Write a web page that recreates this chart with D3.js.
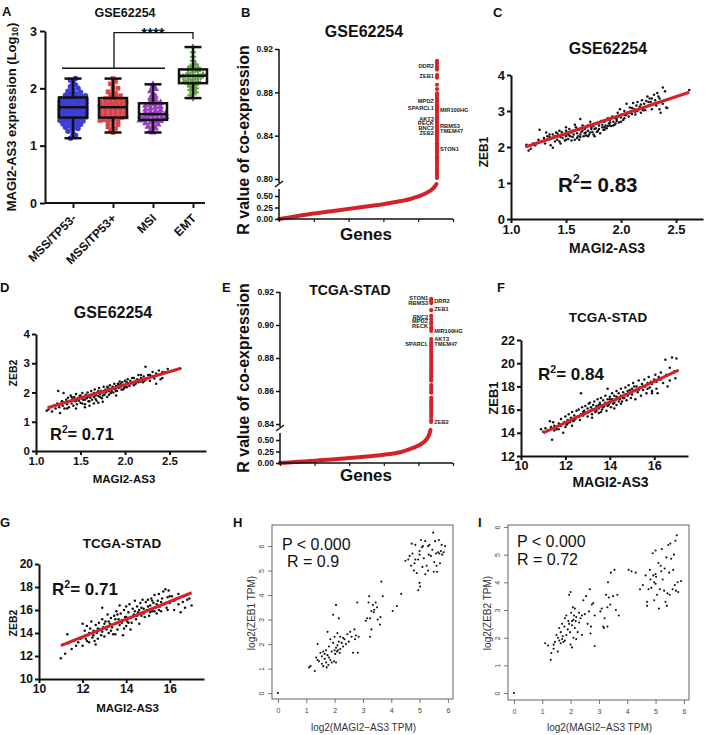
<!DOCTYPE html>
<html><head><meta charset="utf-8">
<script src="https://cdn.jsdelivr.net/npm/d3@7"></script>
<style>body{margin:0;background:#fff}svg{display:block;font-family:Arial,"Liberation Sans",sans-serif}</style>
</head><body>
<svg id="c" width="707" height="735"></svg>
<script>
// ---------------- DATA ----------------
// Panel A
const catsA = ["MSS/TP53-","MSS/TP53+","MSI","EMT"];
const ticksA = [0,1,2,3];
const boxLoA  = [1.13,1.23,1.23,1.83];
const boxQ1A  = [1.49,1.49,1.45,2.09];
const boxMedA = [1.67,1.67,1.55,2.22];
const boxQ3A  = [1.84,1.83,1.74,2.33];
const boxHiA  = [2.17,2.17,2.07,2.72];
const ptsTP53neg = [1.13,1.18,1.2,1.25,1.28,1.3,1.32,1.34,1.35,1.37,1.38,1.4,1.41,1.42,1.43,1.44,1.45,1.46,1.47,1.48,1.48,1.49,1.5,1.5,1.51,1.52,1.53,1.54,1.55,1.55,1.56,1.57,1.58,1.58,1.59,1.6,1.6,1.61,1.62,1.62,1.63,1.64,1.65,1.65,1.66,1.67,1.67,1.68,1.69,1.7,1.7,1.71,1.72,1.73,1.73,1.74,1.75,1.76,1.77,1.78,1.78,1.79,1.8,1.81,1.82,1.83,1.84,1.85,1.86,1.87,1.88,1.9,1.91,1.93,1.95,1.97,2.0,2.03,2.06,2.1,2.14,2.17];
const ptsTP53pos = [1.23,1.28,1.3,1.33,1.35,1.37,1.39,1.41,1.42,1.44,1.45,1.46,1.47,1.48,1.49,1.5,1.51,1.52,1.53,1.54,1.55,1.56,1.57,1.58,1.59,1.6,1.61,1.62,1.63,1.64,1.65,1.66,1.67,1.68,1.69,1.7,1.71,1.72,1.73,1.74,1.75,1.76,1.77,1.78,1.79,1.8,1.81,1.82,1.83,1.85,1.87,1.89,1.91,1.94,1.97,2.0,2.04,2.08,2.12,2.17];
const ptsMSI = [1.23,1.27,1.3,1.33,1.35,1.37,1.39,1.4,1.42,1.43,1.44,1.45,1.46,1.47,1.48,1.49,1.5,1.51,1.52,1.53,1.54,1.55,1.56,1.57,1.58,1.6,1.62,1.63,1.65,1.67,1.68,1.7,1.72,1.73,1.75,1.77,1.8,1.83,1.86,1.9,1.95,1.99,2.03,2.07];
const ptsEMT = [1.83,1.88,1.93,1.97,2.0,2.03,2.06,2.08,2.1,2.11,2.13,2.15,2.17,2.19,2.2,2.21,2.22,2.23,2.24,2.26,2.28,2.3,2.32,2.33,2.36,2.38,2.42,2.48,2.55,2.63,2.72];
const sigA = [2.35, 2.97, 2.86]; // bracket heights
const sigLabelA = "****";

// Panel B (GSE62254 co-expression)
const curveB = [[0,0],[0.05,0.03],[0.1,0.06],[0.2,0.12],[0.3,0.17],[0.4,0.22],[0.5,0.27],[0.6,0.32],[0.7,0.39],[0.75,0.43],[0.8,0.49],[0.85,0.57],[0.875,0.63],[0.895,0.7],[0.905,0.76]];
const colB = [0.909,0.907,0.9045,0.9025,0.901,0.896,0.8935,0.887,0.883,0.879,0.877,0.875,0.873,0.871,0.869,0.867,0.865,0.863,0.861,0.859,0.857,0.855,0.853,0.851,0.849,0.847,0.845,0.843,0.841,0.839,0.837,0.835,0.833,0.831,0.829,0.827,0.825,0.823,0.821,0.819,0.817,0.815,0.813,0.811,0.809,0.807,0.805,0.803,0.801];
const genesBLeft  = ["DDR2","ZEB1","MPDZ","SPARCL1","AKT3","RECK","BNC2","ZEB2"];
const genesBLeftR = [0.904,0.895,0.872,0.8656,0.8554,0.8517,0.8471,0.8425];
const genesBRight  = ["MIR100HG","RBMS3","TMEM47","STON1"];
const genesBRightR = [0.8637,0.849,0.8443,0.8277];
const ticksBUp = [0.80,0.84,0.88,0.92];
const ticksLow = [0,0.25,0.5];

// Panel E (TCGA-STAD co-expression)
const curveE = [[0,0],[0.1,0.025],[0.2,0.05],[0.25,0.065],[0.35,0.09],[0.5,0.14],[0.6,0.18],[0.7,0.24],[0.75,0.3],[0.8,0.38],[0.83,0.45],[0.85,0.53],[0.862,0.62],[0.87,0.72]];
const colE = [0.9158,0.9145,0.9133,0.909,0.9055,0.9036,0.9018,0.9006,0.8988,0.8976,0.8964,0.8915,0.8897,0.8885,0.887,0.8855,0.884,0.8825,0.881,0.8795,0.878,0.8765,0.875,0.8735,0.872,0.8705,0.869,0.8675,0.8662,0.8636,0.862,0.8605,0.859,0.8558,0.8543,0.8528,0.8513,0.8498,0.8483,0.8468,0.8455,0.8442,0.8424,0.8412];
const genesELeft  = ["STON1","RBMS3","BNC2","MPDZ","RECK","SPARCL"];
const genesELeftR = [0.9164,0.9133,0.9048,0.9024,0.8994,0.8885];
const genesERight  = ["DRR2","ZEB1","MIR100HG","AKT3","TMEM47","ZEB2"];
const genesERightR = [0.9145,0.9097,0.8964,0.8915,0.8885,0.8412];
const ticksEUp = [0.84,0.86,0.88,0.90,0.92];

// Panel C: GSE62254 MAGI2-AS3 vs ZEB1
const ptsC = [[1.14,2.06],[1.16,1.9],[1.18,1.95],[1.2,2.1],[1.22,2.05],[1.25,2.2],[1.26,2.48],[1.28,2.15],[1.3,2.25],[1.31,2.1],[1.33,2.3],[1.34,2.2],[1.35,2.35],[1.36,2.05],[1.37,2.25],[1.38,1.98],[1.4,2.3],[1.41,2.4],[1.42,2.2],[1.43,2.32],[1.44,2.15],[1.45,2.28],[1.45,2.1],[1.46,2.42],[1.47,2.25],[1.48,2.35],[1.49,2.18],[1.5,2.3],[1.5,2.45],[1.51,2.38],[1.52,2.22],[1.52,2.35],[1.53,2.5],[1.54,2.3],[1.55,2.4],[1.55,2.18],[1.56,2.28],[1.57,2.35],[1.58,2.45],[1.58,2.2],[1.59,2.55],[1.6,2.38],[1.6,2.25],[1.61,2.3],[1.62,2.48],[1.62,2.2],[1.63,2.78],[1.63,2.35],[1.64,2.42],[1.65,2.6],[1.66,2.3],[1.67,2.5],[1.68,2.4],[1.68,2.32],[1.69,2.55],[1.7,2.45],[1.7,2.6],[1.71,2.35],[1.72,2.62],[1.72,2.4],[1.73,2.5],[1.74,2.42],[1.75,2.58],[1.75,2.35],[1.76,2.3],[1.77,2.52],[1.78,2.65],[1.79,2.45],[1.8,2.6],[1.8,2.5],[1.81,2.38],[1.82,2.72],[1.83,2.55],[1.84,2.48],[1.85,2.7],[1.85,2.55],[1.86,2.6],[1.87,2.52],[1.88,2.8],[1.89,2.65],[1.9,2.75],[1.9,2.6],[1.91,2.58],[1.92,2.85],[1.93,2.7],[1.94,2.62],[1.95,2.8],[1.95,2.65],[1.96,2.72],[1.97,2.95],[1.98,2.68],[1.99,3.05],[2.0,2.82],[2.01,2.9],[2.02,2.75],[2.03,3.0],[2.04,2.88],[2.05,3.2],[2.06,2.95],[2.07,2.85],[2.08,3.1],[2.09,3.0],[2.1,2.92],[2.11,3.22],[2.12,3.05],[2.13,2.98],[2.14,3.15],[2.15,3.25],[2.16,3.05],[2.17,3.12],[2.18,2.95],[2.19,3.3],[2.2,3.1],[2.21,3.2],[2.22,3.02],[2.23,3.28],[2.24,3.4],[2.25,3.15],[2.26,3.35],[2.27,3.25],[2.28,3.05],[2.3,3.45],[2.31,3.3],[2.32,3.15],[2.33,3.5],[2.34,3.4],[2.35,3.05],[2.36,2.95],[2.38,3.65],[2.4,3.55],[2.41,3.1],[2.42,3.08],[2.62,3.58],
  [1.3,2.18],[1.35,2.28],[1.4,2.15],[1.42,2.38],[1.47,2.33],[1.5,2.2],[1.53,2.32],[1.56,2.45],[1.6,2.5],[1.63,2.28],[1.65,2.45],[1.67,2.38],[1.7,2.3],[1.73,2.55],[1.76,2.5],[1.78,2.42],[1.8,2.68],[1.83,2.62],[1.85,2.48],[1.88,2.58],[1.9,2.68],[1.93,2.6],[1.96,2.78],[1.98,2.85],[2.0,2.7],[2.03,2.8],[2.05,2.9],[2.08,2.95],[2.1,3.08],[2.13,2.9],[2.15,3.0],[2.18,3.18],[2.2,3.02],[2.25,3.25],[2.28,3.35],[2.3,3.2],[2.35,3.35],[2.38,3.2],[1.58,2.62],[1.72,2.7],[1.5,2.55],[1.44,2.45],[1.38,2.35],[1.32,2.4]];
const lineC = [[1.13,2.0],[2.62,3.52]];

// Panel D: GSE62254 MAGI2-AS3 vs ZEB2
const ptsD = [[1.12,1.38],[1.14,1.42],[1.16,1.5],[1.18,1.35],[1.2,1.55],[1.22,1.45],[1.24,1.62],[1.25,2.05],[1.26,1.5],[1.27,1.3],[1.28,1.6],[1.29,1.7],[1.3,1.55],[1.31,1.98],[1.32,1.45],[1.33,1.65],[1.34,1.75],[1.35,1.6],[1.36,1.82],[1.37,1.5],[1.38,1.7],[1.39,1.9],[1.4,1.62],[1.41,1.78],[1.42,1.55],[1.43,1.85],[1.44,1.7],[1.45,1.95],[1.45,1.45],[1.46,1.6],[1.47,1.8],[1.48,1.72],[1.49,1.88],[1.5,1.65],[1.51,1.8],[1.52,1.98],[1.53,1.75],[1.54,1.85],[1.55,1.6],[1.55,1.5],[1.56,1.92],[1.57,1.8],[1.58,2.0],[1.59,1.7],[1.6,1.88],[1.6,1.55],[1.61,1.82],[1.62,2.05],[1.63,1.75],[1.64,1.95],[1.65,1.85],[1.66,2.1],[1.67,1.9],[1.68,1.72],[1.69,2.0],[1.7,1.88],[1.71,2.15],[1.72,1.95],[1.73,2.05],[1.74,1.8],[1.75,2.0],[1.75,1.68],[1.76,2.2],[1.77,1.92],[1.78,2.1],[1.79,2.02],[1.8,1.85],[1.81,2.15],[1.82,2.05],[1.83,2.25],[1.84,1.98],[1.85,2.12],[1.86,2.2],[1.87,2.0],[1.88,2.3],[1.89,2.1],[1.9,2.22],[1.9,1.9],[1.91,2.05],[1.92,2.3],[1.93,2.15],[1.94,2.38],[1.95,2.2],[1.96,2.1],[1.97,2.35],[1.98,2.25],[1.99,2.15],[2.0,2.4],[2.01,2.28],[2.02,2.18],[2.03,2.45],[2.04,2.3],[2.05,2.22],[2.06,2.4],[2.08,2.32],[2.1,2.5],[2.12,2.3],[2.14,2.45],[2.15,2.6],[2.17,2.38],[2.18,2.5],[2.2,2.35],[2.21,2.55],[2.23,2.88],[2.24,2.45],[2.26,2.6],[2.28,2.4],[2.3,2.55],[2.31,2.7],[2.33,2.48],[2.35,2.3],[2.38,2.75],[2.4,2.62],[2.42,2.5],[2.45,2.7],[2.48,2.8],[2.62,2.82],
  [1.3,1.68],[1.35,1.45],[1.4,1.85],[1.45,1.72],[1.5,1.9],[1.52,1.62],[1.55,1.75],[1.58,1.85],[1.6,1.7],[1.62,1.9],[1.65,1.98],[1.67,1.78],[1.7,2.05],[1.72,1.85],[1.75,1.9],[1.78,2.0],[1.8,2.2],[1.82,1.92],[1.85,2.05],[1.88,2.15],[1.9,2.05],[1.93,2.25],[1.95,2.3],[1.98,2.1],[2.0,2.2],[2.02,2.35],[2.05,2.3],[2.08,2.5],[2.1,2.25],[2.12,2.4],[2.15,2.35],[2.18,2.6],[2.22,2.4],[2.25,2.5],[2.28,2.6],[2.32,2.55],[2.35,2.65],[2.4,2.45],[2.42,2.7],[1.7,1.65],[1.65,1.62]];
const lineD = [[1.13,1.48],[2.62,2.82]];

// Panel F: TCGA-STAD MAGI2-AS3 vs ZEB1
const ptsF = [[10.9,14.3],[11.0,14.1],[11.1,14.4],[11.2,14.2],[11.3,15.0],[11.35,14.5],[11.4,13.4],[11.45,14.9],[11.5,14.6],[11.6,14.3],[11.7,14.8],[11.7,14.3],[11.8,15.2],[11.9,14.0],[11.95,14.9],[12.0,15.4],[12.0,14.5],[12.05,14.7],[12.1,15.1],[12.15,15.6],[12.2,14.9],[12.25,15.3],[12.3,15.8],[12.3,14.6],[12.35,15.0],[12.4,15.5],[12.45,15.2],[12.5,15.9],[12.55,15.4],[12.6,16.0],[12.65,15.1],[12.7,17.4],[12.7,15.6],[12.75,16.2],[12.8,15.5],[12.85,15.9],[12.9,16.3],[12.95,15.7],[13.0,16.1],[13.0,15.4],[13.05,16.5],[13.1,15.9],[13.15,16.2],[13.2,15.6],[13.2,15.3],[13.25,16.4],[13.3,16.0],[13.3,16.7],[13.35,15.8],[13.4,16.3],[13.45,16.9],[13.5,16.1],[13.5,15.7],[13.55,16.6],[13.6,16.4],[13.6,17.0],[13.65,16.0],[13.7,16.8],[13.75,16.3],[13.8,17.2],[13.8,16.6],[13.85,15.9],[13.9,17.8],[13.9,16.9],[13.95,16.4],[14.0,17.1],[14.0,16.6],[14.05,16.2],[14.1,17.4],[14.1,16.9],[14.15,16.5],[14.2,17.2],[14.2,16.1],[14.25,16.8],[14.3,17.6],[14.3,16.4],[14.35,17.0],[14.4,17.4],[14.45,16.9],[14.5,17.8],[14.5,17.2],[14.55,16.7],[14.6,17.5],[14.65,17.0],[14.7,17.9],[14.7,17.3],[14.75,16.8],[14.8,17.6],[14.85,18.1],[14.9,17.4],[14.95,17.0],[15.0,17.8],[15.0,17.3],[15.05,18.3],[15.1,17.6],[15.15,16.9],[15.2,18.0],[15.25,17.5],[15.3,18.5],[15.35,17.9],[15.4,17.2],[15.45,18.2],[15.5,17.7],[15.55,18.6],[15.6,18.0],[15.65,17.4],[15.7,18.3],[15.75,18.8],[15.8,17.9],[15.85,18.4],[15.9,17.6],[15.9,17.4],[16.0,18.6],[16.05,19.0],[16.1,17.8],[16.15,17.4],[16.2,18.8],[16.3,19.2],[16.4,18.3],[16.5,20.3],[16.55,19.0],[16.6,18.0],[16.7,19.6],[16.8,20.5],[16.9,19.3],[16.95,18.7],[17.0,20.4],
  [11.5,14.2],[11.8,14.6],[12.1,14.8],[12.4,15.1],[12.6,15.4],[12.8,15.8],[13.0,15.8],[13.2,16.0],[13.4,15.9],[13.5,16.4],[13.7,16.2],[13.9,16.3],[14.0,16.9],[14.2,16.6],[14.4,16.7],[14.5,16.5],[14.6,17.0],[14.8,17.2],[15.0,17.5],[15.1,18.0],[15.3,17.7],[15.5,18.0],[15.7,17.8],[15.9,18.2],[16.1,18.4],[16.3,18.6],[16.5,18.9],[16.7,18.5],[13.1,16.6],[13.6,15.8],[14.3,17.1],[14.9,17.7]];
const lineF = [[11.0,14.0],[17.1,19.4]];

// Panel G: TCGA-STAD MAGI2-AS3 vs ZEB2
const ptsG = [[11.0,11.8],[11.1,13.0],[11.2,12.2],[11.3,13.9],[11.35,13.1],[11.5,12.6],[11.6,13.3],[11.7,12.9],[11.9,13.5],[12.0,14.8],[12.0,12.9],[12.1,14.2],[12.15,13.5],[12.2,14.6],[12.25,13.8],[12.3,13.2],[12.35,14.4],[12.4,15.0],[12.45,13.6],[12.5,14.2],[12.55,13.3],[12.6,14.7],[12.6,13.0],[12.65,14.0],[12.7,13.5],[12.75,14.9],[12.8,14.3],[12.85,13.8],[12.9,15.2],[12.9,16.2],[12.95,14.5],[13.0,13.7],[13.05,15.0],[13.1,14.3],[13.15,15.6],[13.2,14.0],[13.25,14.8],[13.3,15.3],[13.35,14.5],[13.4,13.9],[13.45,15.5],[13.5,14.8],[13.5,13.9],[13.55,15.9],[13.6,14.3],[13.65,15.2],[13.7,16.4],[13.7,14.7],[13.75,15.7],[13.8,15.1],[13.85,13.8],[13.9,16.0],[13.95,15.4],[14.0,14.6],[14.0,16.3],[14.05,15.0],[14.1,15.8],[14.15,16.5],[14.2,15.3],[14.2,14.3],[14.25,14.9],[14.3,16.1],[14.35,15.6],[14.4,16.8],[14.45,15.2],[14.5,16.3],[14.55,15.8],[14.6,14.8],[14.65,16.6],[14.7,15.5],[14.75,16.9],[14.8,16.1],[14.85,15.4],[14.9,16.7],[14.95,16.0],[15.0,16.9],[15.05,15.5],[15.1,16.4],[15.15,17.0],[15.2,15.9],[15.25,16.6],[15.3,17.3],[15.35,16.2],[15.4,15.7],[15.45,16.8],[15.5,17.4],[15.55,16.3],[15.6,15.9],[15.65,17.0],[15.7,17.6],[15.75,16.5],[15.8,17.8],[15.85,16.2],[15.9,17.1],[15.9,16.0],[15.95,17.7],[16.0,16.6],[16.1,17.2],[16.2,16.0],[16.25,16.9],[16.3,17.0],[16.4,16.5],[16.5,15.8],[16.6,16.7],[16.7,16.2],[16.8,16.9],[17.0,16.4],
  [11.8,13.2],[12.0,13.6],[12.3,14.0],[12.5,13.8],[12.7,14.4],[12.9,14.1],[13.0,14.8],[13.2,15.0],[13.3,14.2],[13.5,15.2],[13.6,15.6],[13.8,14.9],[14.0,15.4],[14.1,14.9],[14.3,15.4],[14.4,15.9],[14.5,15.5],[14.7,16.2],[14.8,15.7],[15.0,16.3],[15.1,15.8],[15.2,16.8],[15.4,16.5],[15.5,16.0],[15.6,16.7],[15.8,16.6],[16.0,17.2],[16.2,16.8],[16.4,17.4],[16.6,17.2],[13.9,14.4],[14.6,16.0],[15.3,15.9],[12.2,13.3],[16.9,17.0]];
const lineG = [[11.0,12.9],[17.0,17.5]];

// Panel H: log2 TPM MAGI2-AS3 vs ZEB1
const ptsH = [[0,0],[1.1,1.05],[1.15,1.1],[1.3,0.9],[1.35,1.45],[1.4,2.0],[1.4,1.35],[1.45,1.3],[1.5,1.65],[1.55,1.2],[1.55,1.5],[1.6,1.1],[1.6,1.7],[1.65,1.4],[1.65,1.6],[1.7,1.25],[1.7,1.75],[1.72,1.05],[1.75,2.5],[1.75,1.55],[1.78,1.15],[1.8,1.45],[1.8,1.9],[1.85,1.35],[1.85,2.2],[1.9,1.7],[1.9,1.25],[1.95,2.05],[1.95,3.2],[1.98,1.3],[2.0,1.75],[2.0,2.3],[2.02,1.6],[2.05,1.85],[2.05,1.25],[2.05,3.6],[2.08,1.7],[2.1,1.95],[2.1,2.45],[2.12,1.75],[2.15,3.05],[2.15,2.1],[2.18,1.65],[2.2,1.8],[2.2,2.3],[2.25,2.05],[2.3,1.9],[2.3,2.25],[2.35,2.2],[2.4,2.0],[2.45,2.4],[2.5,2.1],[2.55,2.5],[2.6,2.3],[2.65,1.65],[2.7,2.6],[2.72,2.2],[2.75,2.35],[2.8,3.7],[2.82,1.65],[2.85,2.3],[3.1,2.95],[3.15,3.05],[3.2,3.7],[3.22,3.95],[3.25,2.3],[3.25,3.05],[3.3,3.35],[3.3,2.6],[3.35,3.6],[3.38,3.3],[3.4,3.4],[3.45,3.7],[3.5,3.5],[3.52,3.0],[3.6,2.8],[3.62,3.1],[3.65,4.55],[3.7,3.95],[4.05,3.35],[4.2,3.55],[4.35,4.05],[4.5,5.4],[4.6,5.45],[4.65,5.6],[4.7,5.2],[4.72,6.1],[4.75,5.7],[4.8,5.0],[4.82,5.3],[4.85,6.05],[4.85,5.45],[4.9,4.9],[4.95,5.45],[4.95,4.2],[5.0,5.8],[5.0,4.5],[5.0,5.65],[5.02,4.35],[5.05,6.25],[5.08,5.95],[5.1,5.15],[5.12,6.0],[5.15,5.5],[5.2,4.85],[5.2,6.2],[5.25,5.2],[5.3,5.0],[5.3,6.0],[5.32,5.65],[5.35,6.05],[5.4,5.6],[5.45,5.85],[5.48,6.55],[5.5,4.95],[5.52,5.35],[5.55,6.2],[5.58,5.7],[5.6,5.2],[5.62,4.95],[5.65,5.75],[5.68,6.25],[5.7,5.7],[5.72,5.3],[5.75,5.8],[5.78,6.05],[5.8,5.65],[5.85,5.75],[5.9,6.0]];
// Panel I: log2 TPM MAGI2-AS3 vs ZEB2
const ptsI = [[0,0],[1.1,1.8],[1.2,1.72],[1.3,1.2],[1.32,1.45],[1.4,1.6],[1.4,1.75],[1.45,1.85],[1.5,2.1],[1.55,1.5],[1.55,2.0],[1.6,1.9],[1.6,2.35],[1.65,1.8],[1.65,2.2],[1.7,1.95],[1.7,2.5],[1.72,2.05],[1.75,1.85],[1.78,2.4],[1.8,2.7],[1.8,1.9],[1.85,2.1],[1.85,2.8],[1.9,2.3],[1.92,2.6],[1.95,3.55],[1.95,2.5],[1.98,2.2],[2.0,3.65],[2.0,1.75],[2.02,2.9],[2.05,1.65],[2.05,2.45],[2.05,2.6],[2.08,3.1],[2.1,2.65],[2.1,2.0],[2.12,2.8],[2.15,2.35],[2.15,3.05],[2.18,2.6],[2.2,2.75],[2.2,1.95],[2.25,2.2],[2.3,2.9],[2.3,2.55],[2.35,2.7],[2.4,2.8],[2.4,2.1],[2.45,3.35],[2.5,2.85],[2.55,3.5],[2.6,2.5],[2.65,2.95],[2.68,3.75],[2.7,2.15],[2.72,2.4],[2.75,3.2],[2.8,3.25],[2.85,1.7],[2.85,2.8],[3.05,2.95],[3.1,3.05],[3.15,2.4],[3.18,2.35],[3.2,2.7],[3.25,3.55],[3.3,3.1],[3.3,2.4],[3.32,4.0],[3.35,3.45],[3.4,3.2],[3.42,4.35],[3.5,3.5],[3.55,4.45],[3.6,3.0],[3.65,3.55],[3.7,2.8],[4.05,4.45],[4.15,4.4],[4.3,4.35],[4.45,3.75],[4.55,3.9],[4.65,4.25],[4.7,3.3],[4.7,3.15],[4.75,3.75],[4.8,4.45],[4.82,4.1],[4.85,3.8],[4.9,5.05],[4.92,4.25],[4.95,3.35],[4.95,4.0],[5.0,5.15],[5.0,3.95],[5.0,4.3],[5.02,4.2],[5.05,3.55],[5.1,4.7],[5.12,3.05],[5.15,3.75],[5.18,4.6],[5.2,4.4],[5.22,5.2],[5.25,4.1],[5.3,3.7],[5.32,4.5],[5.35,3.3],[5.38,4.9],[5.4,3.15],[5.42,3.6],[5.45,5.35],[5.48,4.35],[5.5,3.55],[5.52,5.4],[5.55,4.85],[5.6,3.75],[5.62,4.45],[5.65,5.0],[5.68,3.9],[5.7,5.5],[5.72,3.7],[5.75,5.7],[5.78,4.0],[5.8,3.65],[5.9,4.05]];
const ticksHI = [0,1,2,3,4,5,6];

// ---------------- DRAWING ----------------
const svg = d3.select("#c");
const RED = "#d3222a";
const FONT = 'Arial,"Liberation Sans",sans-serif';
const fInt = d3.format("d");

function text(x, y, s, size, opt = {}) {
  const t = svg.append("text").attr("x", x).attr("y", y).text(s)
    .attr("font-size", size).attr("font-weight", opt.normal ? "normal" : "bold")
    .attr("text-anchor", opt.anchor || "middle").attr("fill", opt.fill || "#111");
  if (opt.rotate) t.attr("transform", `rotate(${opt.rotate},${x},${y})`);
  return t;
}
function styleAxis(g, size, sw) {
  g.attr("font-family", FONT).attr("font-size", size).attr("font-weight", "bold");
  g.selectAll("path,line").attr("stroke", "#111").attr("stroke-width", sw);
  g.selectAll("text").attr("fill", "#111");
}

// ===== Panel A =====
(function () {
  const x = d3.scalePoint().domain(catsA).range([73, 193]);
  const y = d3.scaleLinear().domain([0, 3]).range([203, 31]);
  text(2, 16, "A", 13, { anchor: "start" });
  text(125, 17, "GSE62254", 12.5);
  const colors = ["#3d3dd8", "#d9434a", "#9a3fc2", "#5fa63a"];
  const syms = [d3.symbolCircle, d3.symbolSquare, d3.symbolTriangle, d3.symbolCross];
  const sizes = [24, 22, 22, 22];
  const groups = [ptsTP53neg, ptsTP53pos, ptsMSI, ptsEMT];
  groups.forEach((vals, gi) => {
    const rows = d3.group(vals, v => Math.round(y(v) / 3.6));
    const cx = x(catsA[gi]);
    const out = [];
    for (const arr of rows.values()) {
      const n = arr.length;
      const s = n > 1 ? Math.min(5, 26 / (n - 1)) : 0;
      arr.forEach((v, i) => out.push([cx + (i - (n - 1) / 2) * s, y(v)]));
    }
    svg.append("g").selectAll("path").data(out).join("path")
      .attr("d", d3.symbol(syms[gi], sizes[gi]))
      .attr("transform", d => `translate(${d[0]},${d[1]})`)
      .attr("fill", colors[gi]);
  });
  const bw = 28, cw = 17;
  const gb = svg.append("g").attr("stroke", "#111").attr("stroke-width", 2.5).attr("fill", "none");
  catsA.forEach((c, i) => {
    const cx = x(c);
    gb.append("rect").attr("x", cx - bw / 2).attr("y", y(boxQ3A[i])).attr("width", bw).attr("height", y(boxQ1A[i]) - y(boxQ3A[i]));
    gb.append("line").attr("x1", cx - bw / 2).attr("x2", cx + bw / 2).attr("y1", y(boxMedA[i])).attr("y2", y(boxMedA[i]));
    gb.append("line").attr("x1", cx).attr("x2", cx).attr("y1", y(boxQ3A[i])).attr("y2", y(boxHiA[i]));
    gb.append("line").attr("x1", cx).attr("x2", cx).attr("y1", y(boxQ1A[i])).attr("y2", y(boxLoA[i]));
    gb.append("line").attr("x1", cx - cw / 2).attr("x2", cx + cw / 2).attr("y1", y(boxHiA[i])).attr("y2", y(boxHiA[i]));
    gb.append("line").attr("x1", cx - cw / 2).attr("x2", cx + cw / 2).attr("y1", y(boxLoA[i])).attr("y2", y(boxLoA[i]));
  });
  const gs = svg.append("g").attr("stroke", "#111").attr("stroke-width", 1.3).attr("fill", "none");
  gs.append("line").attr("x1", x(catsA[0]) - 11).attr("x2", x(catsA[2]) + 12).attr("y1", y(sigA[0])).attr("y2", y(sigA[0]));
  gs.append("path").attr("d", `M${x(catsA[1]) + 1},${y(sigA[0])}V${y(sigA[1])}H${x(catsA[3])}V${y(sigA[2])}`);
  text((x(catsA[1]) + x(catsA[3])) / 2, 38, sigLabelA, 15);
  const ga = svg.append("g").attr("transform", "translate(45,0)")
    .call(d3.axisLeft(y).tickValues(ticksA).tickFormat(fInt).tickSize(5).tickPadding(3).tickSizeOuter(0));
  styleAxis(ga, 12.5, 2);
  svg.append("line").attr("x1", 45).attr("x2", 205).attr("y1", 203).attr("y2", 203).attr("stroke", "#111").attr("stroke-width", 2);
  const gx = svg.append("g").attr("transform", "translate(0,203)").call(d3.axisBottom(x).tickSize(5).tickFormat(""));
  gx.select(".domain").remove();
  styleAxis(gx, 12, 2);
  catsA.forEach(c => {
    svg.append("text").attr("transform", `translate(${x(c) + 4},219) rotate(-45)`)
      .attr("text-anchor", "end").attr("font-size", 12).attr("font-weight", "bold").attr("fill", "#111").text(c);
  });
  const yl = svg.append("text").attr("transform", "translate(16,117) rotate(-90)")
    .attr("text-anchor", "middle").attr("font-size", 13).attr("font-weight", "bold").attr("fill", "#111");
  yl.append("tspan").text("MAGI2-AS3 expression (Log");
  yl.append("tspan").attr("font-size", 8.5).attr("dy", 2).text("10");
  yl.append("tspan").attr("dy", -2).text(")");
})();

// ===== Co-expression panels (B, E) =====
function coexp(o) {
  const x = d3.scaleLinear().domain([0, 1]).range([o.x0, 453]);
  const yU = d3.scaleLinear().domain(o.upDom).range(o.upRange);
  const yL = d3.scaleLinear().domain([0, 0.5]).range(o.lowRange);
  text(o.letterX, o.letterY, o.letter, 13, { anchor: "start" });
  text(o.titleX, o.titleY, o.title, o.titleSize);
  svg.append("path").datum(o.curve)
    .attr("d", d3.line().x(d => x(d[0])).y(d => yL(d[1])).curve(d3.curveMonotoneX))
    .attr("fill", "none").attr("stroke", RED).attr("stroke-width", 4).attr("stroke-linecap", "round");
  svg.append("g").selectAll("circle").data(o.col).join("circle")
    .attr("cx", x(o.colX)).attr("cy", d => yU(d)).attr("r", 2.1).attr("fill", RED);
  o.left.forEach((g, i) => text(x(o.colX) - 3, yU(o.leftR[i]) + 2, g, 5.7, { anchor: "end", fill: "#222" }));
  o.right.forEach((g, i) => text(x(o.colX) + 3, yU(o.rightR[i]) + 2, g, 5.7, { anchor: "start", fill: "#222" }));
  const gu = svg.append("g").attr("transform", `translate(${o.x0},0)`)
    .call(d3.axisLeft(yU).tickValues(o.upTicks).tickFormat(d3.format(".2f")).tickSize(4).tickPadding(2).tickSizeOuter(0));
  gu.select(".domain").remove();
  styleAxis(gu, 8.5, 1.5);
  const gl = svg.append("g").attr("transform", `translate(${o.x0},0)`)
    .call(d3.axisLeft(yL).tickValues(ticksLow).tickFormat(d3.format(".2f")).tickSize(4).tickPadding(2).tickSizeOuter(0));
  gl.select(".domain").remove();
  styleAxis(gl, 8.5, 1.5);
  const ax = svg.append("g").attr("stroke", "#111").attr("stroke-width", 1.5).attr("fill", "none");
  ax.append("line").attr("x1", o.x0).attr("x2", o.x0).attr("y1", o.lowRange[0]).attr("y2", o.breakY + 3);
  ax.append("line").attr("x1", o.x0).attr("x2", o.x0).attr("y1", o.breakY - 3).attr("y2", o.upRange[1]);
  ax.append("line").attr("x1", o.x0 - 4).attr("x2", o.x0 + 4).attr("y1", o.breakY + 1).attr("y2", o.breakY - 5);
  ax.append("line").attr("x1", o.x0).attr("x2", 453).attr("y1", o.lowRange[0]).attr("y2", o.lowRange[0]);
  const gx = svg.append("g").attr("transform", `translate(0,${o.lowRange[0]})`)
    .call(d3.axisBottom(x).ticks(4).tickSize(3).tickFormat(""));
  gx.select(".domain").remove();
  styleAxis(gx, 8, 1.2);
  text(243, o.ylabY, "R value of co-expression", 16, { rotate: -90 }).attr("dy", "0.35em");
  text(366, o.genesY, "Genes", 17);
}
coexp({ letter: "B", letterX: 241, letterY: 17, title: "GSE62254", titleX: 364, titleY: 37, titleSize: 16,
  x0: 279, upDom: [0.80, 0.92], upRange: [179, 49], lowRange: [219, 196], breakY: 186, upTicks: ticksBUp,
  curve: curveB, col: colB, colX: 0.908, left: genesBLeft, leftR: genesBLeftR, right: genesBRight, rightR: genesBRightR,
  ylabY: 140, genesY: 240 });
coexp({ letter: "E", letterX: 222, letterY: 292, title: "TCGA-STAD", titleX: 350, titleY: 295, titleSize: 14,
  x0: 280, upDom: [0.84, 0.92], upRange: [424, 292], lowRange: [463, 440], breakY: 430, upTicks: ticksEUp,
  curve: curveE, col: colE, colX: 0.874, left: genesELeft, leftR: genesELeftR, right: genesERight, rightR: genesERightR,
  ylabY: 378, genesY: 481 });

// ===== Scatter panels (C, D, F, G) =====
function scatter(o) {
  const x = d3.scaleLinear().domain(o.xd).range(o.xr);
  const y = d3.scaleLinear().domain(o.yd).range(o.yr);
  text(o.letterX, o.letterY, o.letter, 13, { anchor: "start" });
  text(o.titleX, o.titleY, o.title, o.titleSize);
  svg.append("g").selectAll("circle").data(o.pts).join("circle")
    .attr("cx", d => x(d[0])).attr("cy", d => y(d[1])).attr("r", 1.25).attr("fill", "#111");
  svg.append("line").attr("x1", x(o.line[0][0])).attr("y1", y(o.line[0][1]))
    .attr("x2", x(o.line[1][0])).attr("y2", y(o.line[1][1]))
    .attr("stroke", RED).attr("stroke-width", 3);
  const gx = svg.append("g").attr("transform", `translate(0,${o.yr[0]})`)
    .call(d3.axisBottom(x).tickValues(o.xt).tickFormat(o.xf).tickSize(4).tickPadding(1.5).tickSizeOuter(0));
  styleAxis(gx, o.tickSize, 2);
  const gy = svg.append("g").attr("transform", `translate(${o.xr[0]},0)`)
    .call(d3.axisLeft(y).tickValues(o.yt).tickFormat(fInt).tickSize(4).tickPadding(2).tickSizeOuter(0));
  styleAxis(gy, o.tickSize, 2);
  text((o.xr[0] + o.xr[1]) / 2 + o.xlabDx, o.xlabY, "MAGI2-AS3", o.labSize);
  text(o.ylabX, o.ylabY, o.ylab, o.ylabSize, { rotate: -90 }).attr("dy", "0.35em");
  const r = svg.append("text").attr("x", o.rX).attr("y", o.rY).attr("font-size", o.rSize)
    .attr("font-weight", "bold").attr("fill", "#111");
  r.append("tspan").text("R");
  r.append("tspan").attr("font-size", o.rSize * 0.62).attr("dy", -o.rSize * 0.42).text("2");
  r.append("tspan").attr("dy", o.rSize * 0.42).text("= " + o.r2);
}
scatter({ letter: "C", letterX: 493, letterY: 17, title: "GSE62254", titleX: 608, titleY: 54, titleSize: 16,
  xd: [1, 2.745], xr: [511, 703], yd: [0, 4], yr: [219, 75], xt: [1, 1.5, 2, 2.5], yt: [0, 1, 2, 3, 4], xf: d3.format(".1f"),
  pts: ptsC, line: lineC, tickSize: 13, xlabDx: 0, xlabY: 253, labSize: 14, ylab: "ZEB1", ylabX: 484, ylabY: 152, ylabSize: 12,
  rX: 558, rY: 192, rSize: 20.5, r2: "0.83" });
scatter({ letter: "D", letterX: 0, letterY: 292, title: "GSE62254", titleX: 113, titleY: 318, titleSize: 16,
  xd: [1, 2.91], xr: [36, 206], yd: [0, 4], yr: [451, 334], xt: [1, 1.5, 2, 2.5], yt: [0, 1, 2, 3, 4], xf: d3.format(".1f"),
  pts: ptsD, line: lineD, tickSize: 11.5, xlabDx: 3, xlabY: 483, labSize: 11.5, ylab: "ZEB2", ylabX: 13, ylabY: 373, ylabSize: 10.5,
  rX: 50, rY: 440, rSize: 16.5, r2: "0.71" });
scatter({ letter: "F", letterX: 497, letterY: 292, title: "TCGA-STAD", titleX: 608, titleY: 322, titleSize: 13.5,
  xd: [10, 17.52], xr: [521, 688], yd: [12, 22], yr: [456, 340], xt: [10, 12, 14, 16], yt: [12, 14, 16, 18, 20, 22], xf: fInt,
  pts: ptsF, line: lineF, tickSize: 12.5, xlabDx: 6, xlabY: 487, labSize: 14, ylab: "ZEB1", ylabX: 493, ylabY: 398, ylabSize: 13,
  rX: 538, rY: 380, rSize: 17, r2: "0.84" });
scatter({ letter: "G", letterX: 0, letterY: 527, title: "TCGA-STAD", titleX: 122, titleY: 548, titleSize: 13.5,
  xd: [10, 17.57], xr: [39, 204], yd: [10, 20], yr: [679, 564], xt: [10, 12, 14, 16], yt: [10, 12, 14, 16, 18, 20], xf: fInt,
  pts: ptsG, line: lineG, tickSize: 12, xlabDx: 6, xlabY: 712, labSize: 11.5, ylab: "ZEB2", ylabX: 13, ylabY: 623, ylabSize: 10.5,
  rX: 52, rY: 595, rSize: 17, r2: "0.71" });

// ===== R-style panels (H, I) =====
function rplot(o) {
  const x = d3.scaleLinear().domain([-0.21, 6.18]).range([o.bx0, o.bx1]);
  const y = d3.scaleLinear().domain(o.yd).range([o.by1, o.by0]);
  text(o.letterX, 527, o.letter, 13, { anchor: "start" });
  svg.append("rect").attr("x", o.bx0).attr("y", o.by0).attr("width", o.bx1 - o.bx0).attr("height", o.by1 - o.by0)
    .attr("fill", "none").attr("stroke", "#555").attr("stroke-width", 0.9);
  svg.append("g").selectAll("circle").data(o.pts).join("circle")
    .attr("cx", d => x(d[0])).attr("cy", d => y(d[1])).attr("r", 1.05).attr("fill", "#111");
  const gx = svg.append("g").attr("transform", `translate(0,${o.by1})`)
    .call(d3.axisBottom(x).tickValues(ticksHI).tickFormat(fInt).tickSize(4).tickPadding(5).tickSizeOuter(0));
  gx.select(".domain").remove();
  gx.attr("font-family", FONT).attr("font-size", 7);
  gx.selectAll("line").attr("stroke", "#555").attr("stroke-width", 0.8);
  gx.selectAll("text").attr("fill", "#444");
  const gy = svg.append("g").attr("transform", `translate(${o.bx0},0)`)
    .call(d3.axisLeft(y).tickValues(ticksHI).tickFormat(fInt).tickSize(4).tickPadding(5).tickSizeOuter(0));
  gy.select(".domain").remove();
  gy.attr("font-family", FONT).attr("font-size", 7);
  gy.selectAll("line").attr("stroke", "#555").attr("stroke-width", 0.8);
  gy.selectAll("text").attr("fill", "#444").attr("text-anchor", "middle").attr("dy", 0)
    .attr("x", 0).attr("y", 0).attr("transform", "translate(-8,0) rotate(-90)");
  text((o.bx0 + o.bx1) / 2 + 1, 731, "log2(MAGI2\u2212AS3 TPM)", 10, { normal: true, fill: "#333" });
  text(o.bx0 - 21, 613, o.ylab, 10, { normal: true, fill: "#333", rotate: -90 }).attr("dy", "0.35em");
  text(o.pX, o.pY, "P < 0.000", 16, { normal: true, anchor: "start" });
  text(o.rX, o.rY, o.rtxt, 16, { normal: true, anchor: "start" });
}
rplot({ letter: "H", letterX: 233, bx0: 272, bx1: 453, by0: 525, by1: 699, yd: [-0.24, 6.86], pts: ptsH,
  ylab: "log2(ZEB1 TPM)", pX: 282, pY: 550, rX: 287, rY: 567, rtxt: "R = 0.9" });
rplot({ letter: "I", letterX: 478, bx0: 508, bx1: 689, by0: 525, by1: 700, yd: [-0.25, 6.07], pts: ptsI,
  ylab: "log2(ZEB2 TPM)", pX: 517, pY: 547, rX: 517, rY: 565, rtxt: "R = 0.72" });
</script>
</body></html>
